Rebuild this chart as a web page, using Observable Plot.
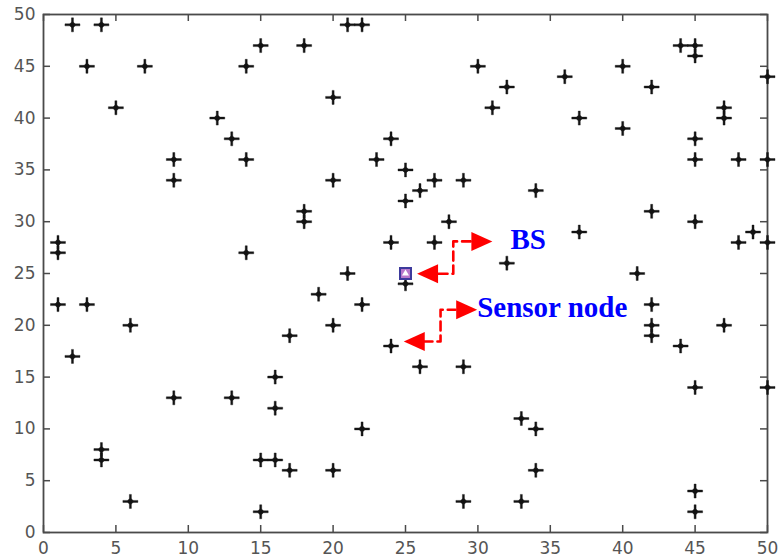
<!DOCTYPE html>
<html>
<head>
<meta charset="utf-8">
<script src="https://cdn.jsdelivr.net/npm/d3@7"></script>
<script src="https://cdn.jsdelivr.net/npm/@observablehq/plot@0.6"></script>
<style>
  html, body { margin: 0; padding: 0; background: #ffffff; }
  #chart { width: 781px; height: 559px; }
</style>
</head>
<body>
<div id="chart"></div>
<script>
// Sensor node positions in the 50 x 50 field
const nodeX = [2,4,21,22, 15,18,44,45,45, 3,7,14,30,40, 36,50, 32,42,20, 5,31,47,
  12,37,47,40, 13,24,45, 9,14,23,45,48,50, 25, 9,20,27,29, 26,34,25, 18,42,
  18,28,45, 37,49, 1,24,27,48,50, 1,14,32, 21,41,25, 19, 1,3,22,42, 6,20,42,47,
  17,42, 24,44,2, 26,29,16, 45,50, 9,13,16,33, 22,34, 4,4,15,16, 17,20,34, 45,
  6,29,33, 15,45];
const nodeY = [49,49,49,49, 47,47,47,47,46, 45,45,45,45,45, 44,44, 43,43,42, 41,41,41,
  40,40,40,39, 38,38,38, 36,36,36,36,36,36, 35, 34,34,34,34, 33,33,32, 31,31,
  30,30,30, 29,29, 28,28,28,28,28, 27,27,26, 25,25,24, 23, 22,22,22,22, 20,20,20,20,
  19,19, 18,18,17, 16,16,15, 14,14, 13,13,12,11, 10,10, 8,7,7,7, 6,6,6, 4,
  3,3,3, 2,2];

// Base station
const bsX = [25];
const bsY = [25];

// Axis ticks
const xTicks = [0,5,10,15,20,25,30,35,40,45,50];
const yTicks = [0,5,10,15,20,25,30,35,40,45,50];

// Callouts: dashed elbow leaders with arrowheads and their labels
const labels = ["BS", "Sensor node"];
const labelX = [32.25, 29.95];
const labelY = [28.25, 21.7];
const leaderBS = {x: [27.28, 28.3, 28.3, 29.5], y: [24.97, 24.97, 28.1, 28.1]};
const leaderSensor = {x: [26.24, 27.42, 27.42, 28.45], y: [18.44, 18.44, 21.5, 21.5]};
const headRightX = [31.0, 29.95];
const headRightY = [28.1, 21.5];
const headLeftX = [25.8, 24.88];
const headLeftY = [24.97, 18.44];

const nodes = nodeX.map((x, i) => ({x, y: nodeY[i]}));
const bs = bsX.map((x, i) => ({x, y: bsY[i]}));
const notes = labels.map((t, i) => ({t, x: labelX[i], y: labelY[i]}));
const toPts = (o) => o.x.map((x, i) => ({x, y: o.y[i]}));
const heads = (xs, ys) => xs.map((x, i) => ({x, y: ys[i]}));

// Node marker: thin cross arms around a solid centre
const nodeStar = {
  draw(ctx) {
    const rx = 7.5, ry = 7, w = 1, c = 3.6;
    ctx.rect(-rx, -w, 2 * rx, 2 * w);
    ctx.rect(-w, -ry, 2 * w, 2 * ry);
    ctx.moveTo(c, 0);
    ctx.lineTo(0, c);
    ctx.lineTo(-c, 0);
    ctx.lineTo(0, -c);
    ctx.closePath();
  }
};

// Filled arrowhead pointing right, tip at the origin
const arrowHead = {
  draw(ctx) {
    ctx.moveTo(0, 0);
    ctx.lineTo(-21, -9.5);
    ctx.lineTo(-21, 9.5);
    ctx.closePath();
  }
};

const W = 781, H = 559;
const mL = 43, mR = 14, mT = 14, mB = 27;
const innerW = W - mL - mR, innerH = H - mT - mB;
const tickLen = 7;
const axisColor = "#4a4a4a";

const chart = Plot.plot({
  width: W,
  height: H,
  marginLeft: mL,
  marginRight: mR,
  marginTop: mT,
  marginBottom: mB,
  style: {fontFamily: "DejaVu Sans", fontSize: "17px", color: "#555555", background: "#ffffff"},
  x: {domain: [0, 50], ticks: xTicks, tickSize: 0, tickPadding: 9, label: null},
  y: {domain: [0, 50], ticks: yTicks, tickSize: 0, tickPadding: 8, label: null},
  marks: [
    // inward tick marks on all four sides
    Plot.tickX(xTicks, {x: d => d, insetTop: innerH - tickLen, stroke: axisColor, strokeWidth: 1.5}),
    Plot.tickX(xTicks, {x: d => d, insetBottom: innerH - tickLen, stroke: axisColor, strokeWidth: 1.5}),
    Plot.tickY(yTicks, {y: d => d, insetRight: innerW - tickLen, stroke: axisColor, strokeWidth: 1.5}),
    Plot.tickY(yTicks, {y: d => d, insetLeft: innerW - tickLen, stroke: axisColor, strokeWidth: 1.5}),
    Plot.frame({stroke: axisColor, strokeWidth: 1.8}),
    // sensor nodes
    Plot.dot(nodes, {x: "x", y: "y", symbol: nodeStar, fill: "#141414", stroke: "#141414", strokeWidth: 0.4}),
    // base station
    Plot.dot(bs, {x: "x", y: "y", symbol: "square", r: 6.2, fill: "#b878cc", stroke: "#3d3a9c", strokeWidth: 2}),
    Plot.dot(bs, {x: "x", y: "y", symbol: "triangle", r: 2.6, fill: "#ffffff", stroke: "none"}),
    // callout leaders
    Plot.line(toPts(leaderBS), {x: "x", y: "y", stroke: "#ff0000", strokeWidth: 2.6, strokeDasharray: "9,5", curve: "linear"}),
    Plot.line(toPts(leaderSensor), {x: "x", y: "y", stroke: "#ff0000", strokeWidth: 2.6, strokeDasharray: "9,5", curve: "linear"}),
    Plot.dot(heads(headRightX, headRightY), {x: "x", y: "y", symbol: arrowHead, fill: "#ff0000", stroke: "none"}),
    Plot.dot(heads(headLeftX, headLeftY), {x: "x", y: "y", symbol: arrowHead, rotate: 180, fill: "#ff0000", stroke: "none"}),
    Plot.text(notes, {x: "x", y: "y", text: "t", textAnchor: "start", lineAnchor: "middle",
      fontFamily: "Liberation Serif", fontWeight: "bold", fontSize: 29, fill: "#0000ff"})
  ]
});

document.getElementById("chart").appendChild(chart);
</script>
</body>
</html>
